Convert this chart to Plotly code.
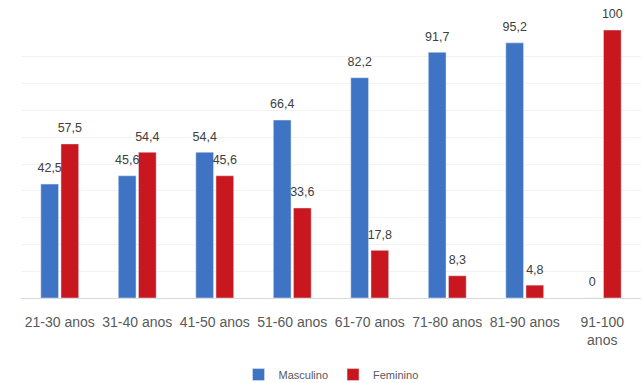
import plotly.graph_objects as go

categories = ["21-30 anos", "31-40 anos", "41-50 anos", "51-60 anos",
              "61-70 anos", "71-80 anos", "81-90 anos", "91-100<br>anos"]
masculino = [42.5, 45.6, 54.4, 66.4, 82.2, 91.7, 95.2, 0]
feminino = [57.5, 54.4, 45.6, 33.6, 17.8, 8.3, 4.8, 100]


def fmt(v):
    return ("%g" % v).replace(".", ",")


BLUE = "#3f74c4"
RED = "#c8171e"
FONT = "Liberation Sans"

fig = go.Figure()
series = [("Masculino", masculino, BLUE), ("Feminino", feminino, RED)]
for name, vals, col in series:
    fig.add_trace(go.Bar(name=name, x=categories, y=vals,
                         marker_color=col, hoverinfo="skip"))
for name, vals, col in series:
    fig.add_trace(go.Scatter(x=categories, y=vals, mode="markers+text",
                             text=[fmt(v) for v in vals],
                             textposition="top center", cliponaxis=False,
                             marker=dict(size=12, opacity=0),
                             showlegend=False,
                             textfont=dict(size=12.5, color="#404040", family=FONT)))

fig.update_layout(
    width=643, height=383,
    margin=dict(l=21, r=2, t=30, b=85),
    paper_bgcolor="white", plot_bgcolor="white",
    barmode="group", bargap=0.48, bargroupgap=0.12,
    scattermode="group", scattergap=0.48,
    font=dict(family=FONT, size=12, color="#595959"),
    showlegend=True,
    legend=dict(orientation="h", x=0.5, xanchor="center",
                yref="container", y=0.022, yanchor="middle",
                font=dict(size=11, color="#595959"),
                itemwidth=30, traceorder="normal"),
    xaxis=dict(showgrid=False, showline=True, linecolor="#d9d9d9",
               linewidth=1, ticks="", tickangle=0, ticklabelstandoff=11,
               automargin=False,
               tickfont=dict(size=14, color="#595959")),
    yaxis=dict(range=[0, 100], dtick=10, showgrid=True, gridcolor="#f2f2f2",
               showticklabels=False, zeroline=False, showline=False,
               automargin=False),
)

fig.write_html("out.html")
